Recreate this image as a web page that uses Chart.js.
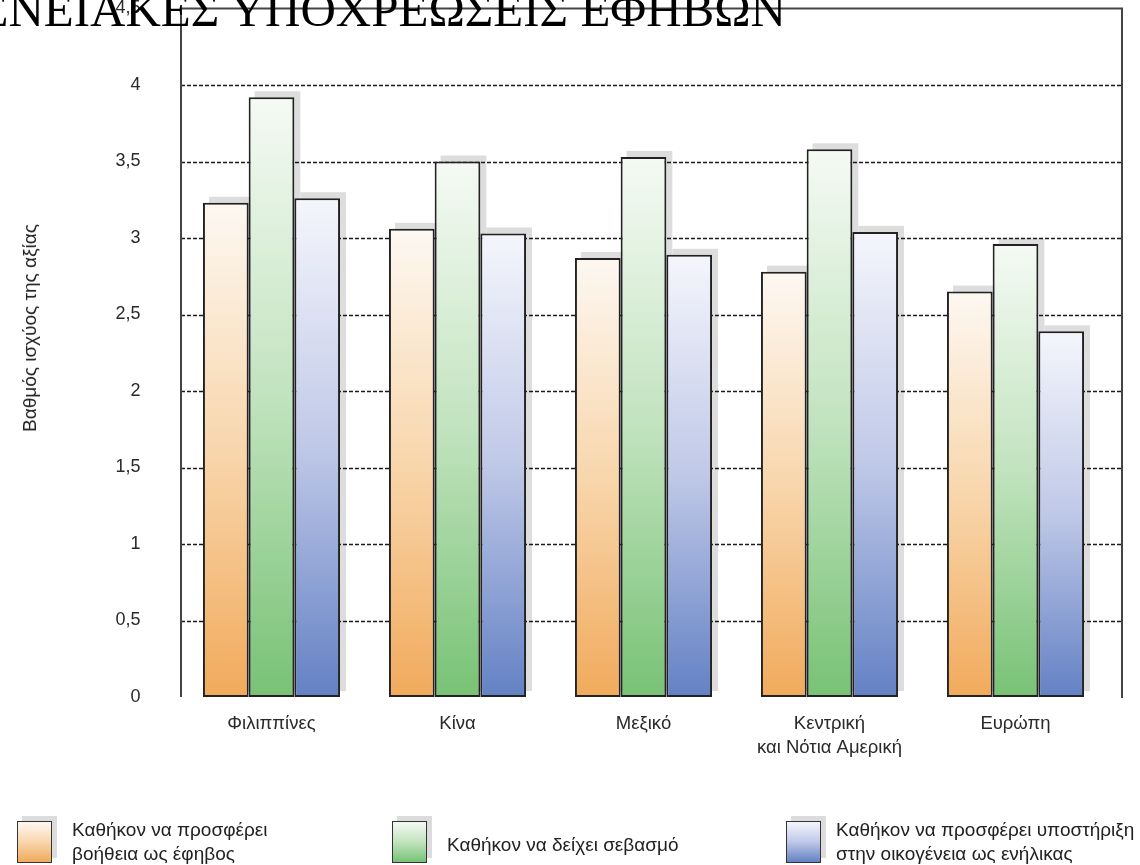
<!DOCTYPE html>
<html>
<head>
<meta charset="utf-8">
<script src="https://cdn.jsdelivr.net/npm/chart.js@4.4.1/dist/chart.umd.min.js"></script>
<style>
html,body{margin:0;padding:0;background:#fff;}
body{width:1140px;height:865px;overflow:hidden;position:relative;font-family:"Liberation Sans",Arial,sans-serif;color:#222;}
#cv{position:absolute;left:0;top:0;}
#title{position:absolute;right:354px;top:-15px;font-family:"Liberation Serif",serif;font-size:49px;line-height:50px;white-space:nowrap;color:#000;z-index:5;}
#ytitle{position:absolute;left:30px;top:328px;transform:translate(-50%,-50%) rotate(-90deg);font-size:19px;white-space:nowrap;color:#222;}
.lbox{position:absolute;width:35px;height:42px;border:1.5px solid #333;box-sizing:border-box;box-shadow:5px -5px 0 #dcdcdc;}
.ltxt{position:absolute;font-size:19px;line-height:24px;color:#222;white-space:nowrap;}
</style>
</head>
<body>
<canvas id="cv" width="1140" height="865"></canvas>
<div id="title">ΟΙΚΟΓΕΝΕΙΑΚΕΣ ΥΠΟΧΡΕΩΣΕΙΣ ΕΦΗΒΩΝ</div>
<div id="ytitle">Βαθμός ισχύος της αξίας</div>
<div id="legend"></div>
<script>
// ---- data ----
const categories = ["Φιλιππίνες", "Κίνα", "Μεξικό", ["Κεντρική", "και Νότια Αμερική"], "Ευρώπη"];
const helpAsTeen = [3.23, 3.06, 2.87, 2.78, 2.65];
const showRespect = [3.92, 3.50, 3.53, 3.58, 2.96];
const supportAsAdult = [3.26, 3.03, 2.89, 3.04, 2.39];
const seriesNames = [
  ["Καθήκον να προσφέρει", "βοήθεια ως έφηβος"],
  ["Καθήκον να δείχει σεβασμό"],
  ["Καθήκον να προσφέρει υποστήριξη", "στην οικογένεια ως ενήλικας"]
];
const yTicks = [0, 0.5, 1, 1.5, 2, 2.5, 3, 3.5, 4, 4.5];
const gridValues = [0.5, 1, 1.5, 2, 2.5, 3, 3.5, 4];

// ---- styles ----
const gradStops = [
  ['#fdf8f2', '#f8d6ac', '#f1aa5c'],
  ['#f5faf4', '#c1e3be', '#78c275'],
  ['#f5f6fc', '#bfc8e7', '#6381c4']
];

function makeBg(idx) {
  return function (ctx) {
    const chart = ctx.chart;
    const stops = gradStops[idx];
    if (ctx.type !== 'data' || !chart.scales || !chart.scales.y) return stops[1];
    const ys = chart.scales.y;
    const top = ys.getPixelForValue(ctx.raw);
    const bot = ys.getPixelForValue(0);
    if (!isFinite(top) || !isFinite(bot) || top === bot) return stops[1];
    const g = chart.ctx.createLinearGradient(0, top, 0, bot);
    g.addColorStop(0, stops[0]);
    g.addColorStop(0.5, stops[1]);
    g.addColorStop(1, stops[2]);
    return g;
  };
}

const frameLeft = 181, frameRight = 1122;

const decorPlugin = {
  id: 'decor',
  beforeDatasetsDraw(chart) {
    const c = chart.ctx;
    const ys = chart.scales.y;
    // shadows
    c.save();
    c.fillStyle = '#dddddd';
    chart.data.datasets.forEach((ds, i) => {
      const meta = chart.getDatasetMeta(i);
      meta.data.forEach(el => {
        const p = el.getProps(['x', 'y', 'base', 'width'], true);
        c.fillRect(p.x - p.width / 2 + 6, p.y - 6, p.width, p.base - p.y);
      });
    });
    c.restore();
    // dashed gridlines
    c.save();
    c.strokeStyle = '#1a1a1a';
    c.lineWidth = 1.3;
    c.setLineDash([4, 2]);
    gridValues.forEach(v => {
      const y = Math.round(ys.getPixelForValue(v)) + 0.5;
      c.beginPath();
      c.moveTo(frameLeft, y);
      c.lineTo(frameRight - 1, y);
      c.stroke();
    });
    c.restore();
  },
  afterDatasetsDraw(chart) {
    const c = chart.ctx;
    const ys = chart.scales.y;
    const top = ys.getPixelForValue(4.5);
    const bot = ys.getPixelForValue(0);
    c.save();
    c.strokeStyle = '#444444';
    c.lineWidth = 2;
    c.beginPath();
    c.moveTo(frameLeft, bot);
    c.lineTo(frameLeft, top);
    c.lineTo(frameRight, top);
    c.lineTo(frameRight, bot + 1);
    c.stroke();
    c.restore();
  }
};

const chart = new Chart(document.getElementById('cv'), {
  type: 'bar',
  data: {
    labels: categories,
    datasets: [
      { label: seriesNames[0].join(' '), data: helpAsTeen, backgroundColor: makeBg(0) },
      { label: seriesNames[1].join(' '), data: showRespect, backgroundColor: makeBg(1) },
      { label: seriesNames[2].join(' '), data: supportAsAdult, backgroundColor: makeBg(2) }
    ]
  },
  options: {
    responsive: false,
    animation: false,
    layout: { padding: { left: 0, right: 31.5, top: 8.5, bottom: 0 } },
    datasets: {
      bar: {
        barPercentage: 1,
        categoryPercentage: 0.737,
        borderColor: '#222222',
        borderWidth: 2,
        borderSkipped: false
      }
    },
    plugins: {
      legend: { display: false },
      tooltip: { enabled: false },
      title: { display: false }
    },
    scales: {
      x: {
        grid: { display: false, drawTicks: false },
        border: { display: false },
        ticks: {
          color: '#2a2a2a',
          font: { family: 'Liberation Sans', size: 18.5, lineHeight: 1.3 },
          padding: 15,
          maxRotation: 0,
          autoSkip: false
        },
        afterFit(s) { s.height = 168; s.paddingLeft = 0; s.paddingRight = 0; }
      },
      y: {
        min: 0,
        max: 4.5,
        afterBuildTicks(s) { s.ticks = yTicks.map(v => ({ value: v })); },
        grid: { display: false, drawTicks: false },
        border: { display: false },
        ticks: {
          color: '#2a2a2a',
          font: { family: 'Liberation Sans', size: 18 },
          padding: 38,
          callback: v => String(v).replace('.', ',')
        },
        afterFit(s) { s.width = 178.5; s.paddingTop = 0; s.paddingBottom = 0; }
      }
    }
  },
  plugins: [decorPlugin]
});

// ---- HTML legend ----
const legendPos = [
  { bx: 17, tx: 72 },
  { bx: 392, tx: 447 },
  { bx: 786, tx: 836 }
];
const legend = document.getElementById('legend');
seriesNames.forEach((lines, i) => {
  const b = document.createElement('div');
  b.className = 'lbox';
  b.style.left = legendPos[i].bx + 'px';
  b.style.top = '821px';
  b.style.background = 'linear-gradient(to bottom,' + gradStops[i][0] + ',' + gradStops[i][1] + ',' + gradStops[i][2] + ')';
  legend.appendChild(b);
  const t = document.createElement('div');
  t.className = 'ltxt';
  t.style.left = legendPos[i].tx + 'px';
  t.style.top = (lines.length === 2 ? 818 : 833) + 'px';
  t.innerHTML = lines.join('<br>');
  legend.appendChild(t);
});
</script>
</body>
</html>
